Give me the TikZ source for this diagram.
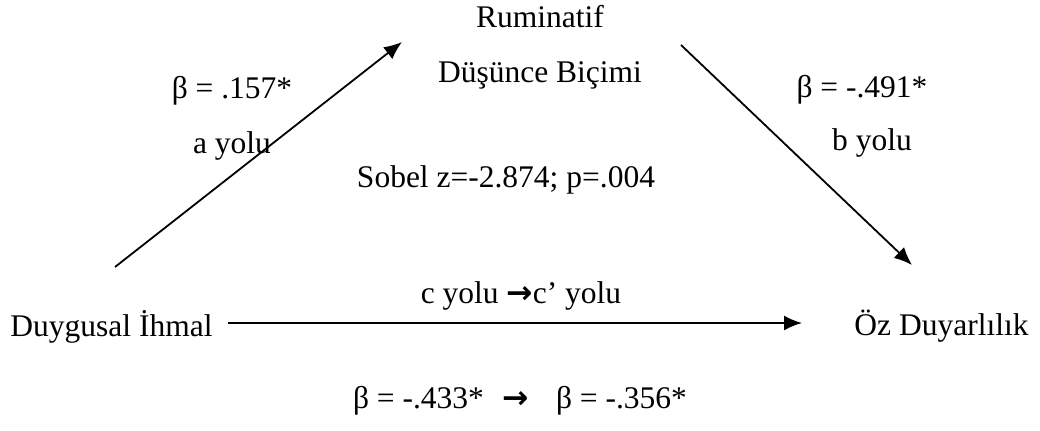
\documentclass[tikz,border=0pt]{standalone}
\usepackage{fontspec}
\setmainfont{Liberation Serif}
\newfontfamily\arrowfont{DejaVu Sans}
\usetikzlibrary{arrows.meta}
\begin{document}
\begin{tikzpicture}[x=0.5pt,y=-0.5pt,
  lbl/.style={inner sep=0pt,anchor=base,font=\fontsize{15.75}{18}\selectfont},
  conn/.style={line width=0.9pt,-{Latex[length=9pt,width=7.5pt]}}]
\useasboundingbox (0,0) rectangle (1040,430);
\node[lbl] (rum1) at (540,27) {Ruminatif};
\node[lbl] (rum2) at (540,82) {Düşünce Biçimi};
\node[lbl] (ba) at (232,98) {β = .157*};
\node[lbl] (ay) at (232,153) {a yolu};
\node[lbl] (sob) at (506,187) {Sobel z=-2.874; p=.004};
\node[lbl] (bb) at (862,97) {β = -.491*};
\node[lbl] (by) at (872,150) {b yolu};
\node[lbl] (cy) at (521,303) {c yolu {\arrowfont\bfseries →}c’ yolu};
\node[lbl] (dug) at (111.5,336) {Duygusal İhmal};
\node[lbl] (oz) at (941.5,335) {Öz Duyarlılık};
\node[lbl] (bc) at (520,408) {β = -.433*\hspace{0.6em}{\arrowfont\bfseries →}\hspace{0.6em} β = -.356*};
\coordinate (a0) at (115,267);
\coordinate (a1) at (402,42);
\coordinate (b0) at (681,45);
\coordinate (b1) at (912,265);
\coordinate (c0) at (228,323);
\coordinate (c1) at (802,323);
\draw[conn] (a0) -- (a1);
\draw[conn] (b0) -- (b1);
\draw[conn] (c0) -- (c1);
\end{tikzpicture}
\end{document}
